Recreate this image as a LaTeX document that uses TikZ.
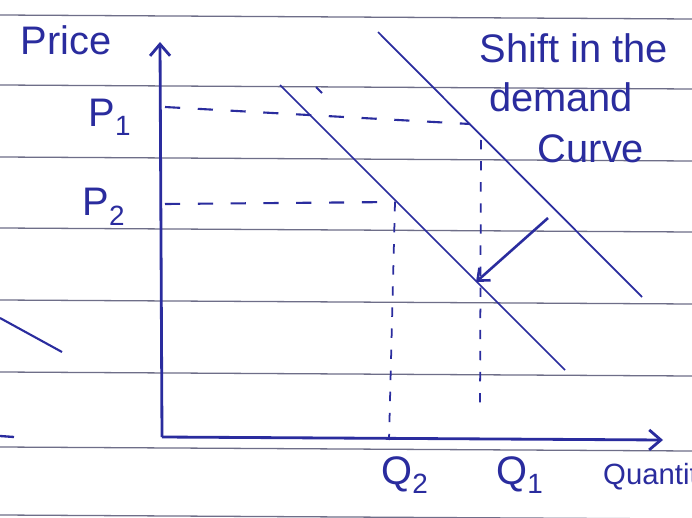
\documentclass[tikz,border=0pt]{standalone}
\usepackage{fontspec}
\setmainfont{Liberation Sans}
\usetikzlibrary{arrows.meta}
\definecolor{ink}{HTML}{2A2C9E}
\definecolor{rulex}{HTML}{6E6E88}
\tikzset{
  ax/.style={ink,line width=2.4pt,-{Straight Barb[length=3.5mm,width=6mm]}},
  crv/.style={ink,line width=1.5pt},
  dsh/.style={ink,line width=1.8pt,dash pattern=on 13pt off 15pt},
  vdsh/.style={ink,line width=1.5pt,dash pattern=on 8pt off 10pt},
  lbl/.style={ink,font=\fontsize{34}{36}\selectfont,inner sep=0pt}
}
\begin{document}
\begin{tikzpicture}[x=0.3mm,y=-0.3mm]
\useasboundingbox (0,0) rectangle (692,518);
\fill[white] (0,0) rectangle (692,518);
% lined paper
\foreach \y in {15,85,157,228,300,372,447,515}{\draw[rulex,line width=1.1pt] (0,\y)--(692,\y+4);}
% axes
\coordinate (O) at (162,437);
\coordinate (ytop) at (160,42);
\coordinate (xend) at (663,440);
\draw[ax] (O) -- (ytop);
\draw[ax] (O) -- (xend);
% demand curves
\coordinate (Da) at (378,32);
\coordinate (Db) at (642,297);
\coordinate (Ea) at (280,85);
\coordinate (Eb) at (565,370);
\draw[crv] (Da) -- (Db);
\draw[crv] (Ea) -- (Eb);
% price and quantity guides
\coordinate (p1t) at (165,107);
\coordinate (p1e) at (470,124);
\coordinate (p2t) at (165,204);
\coordinate (p2e) at (395,202);
\coordinate (q2e) at (389,440);
\coordinate (q1s) at (481,140);
\coordinate (q1e) at (480,412);
\draw[dsh] (p1t) -- (p1e);
\draw[dsh] (p2t) -- (p2e);
\draw[vdsh] (p2e) -- (q2e);
\draw[vdsh] (q1s) -- (q1e);
% shift arrow
\coordinate (sa) at (548,218);
\coordinate (sb) at (476,282);
\draw[ink,line width=2.2pt,-{Straight Barb[length=3mm,width=5mm]}] (sa) -- (sb);
% stray marks on the page
\coordinate (ma) at (0,318);
\coordinate (mb) at (62,352);
\coordinate (mc) at (0,436);
\coordinate (md) at (14,437);
\coordinate (me) at (316,87);
\coordinate (mf) at (322,93);
\draw[ink,line width=1.8pt] (ma) -- (mb);
\draw[ink,line width=2pt] (mc) -- (md);
\draw[ink,line width=1.6pt] (me) -- (mf);
% labels
\node[lbl] (price) at (66,40) {Price};
\node[lbl] (p1) at (110,117) {P\textsubscript{1}};
\node[lbl] (p2) at (104,207) {P\textsubscript{2}};
\node[lbl] (q2) at (405,475) {Q\textsubscript{2}};
\node[lbl] (q1) at (520,475) {Q\textsubscript{1}};
\node[lbl,font=\fontsize{25}{27}\selectfont,anchor=west] (qty) at (603,477) {Quantity};
\node[lbl] (shifta) at (574,48) {Shift in the};
\node[lbl] (shiftb) at (561,97) {demand};
\node[lbl] (shiftc) at (591,149) {Curve};
\end{tikzpicture}
\end{document}
